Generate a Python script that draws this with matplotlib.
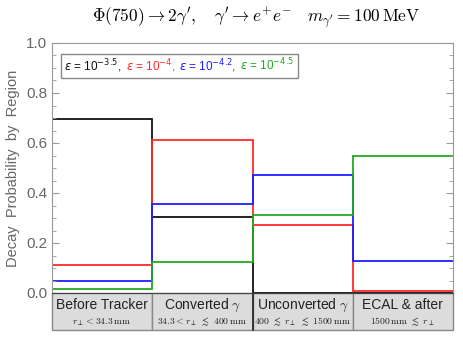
import matplotlib
matplotlib.use("Agg")
import matplotlib.pyplot as plt
from matplotlib.offsetbox import TextArea, HPacker, AnchoredOffsetbox
from matplotlib.patches import Rectangle
import numpy as np

plt.rcParams['font.family'] = ['Liberation Sans', 'DejaVu Sans']
plt.rcParams['mathtext.fontset'] = 'cm'

regions = ["Before Tracker", r"Converted $\gamma$", r"Unconverted $\gamma$", "ECAL & after"]
ranges = [r"$r_\perp < 34.3\,\mathrm{mm}$",
          r"$34.3 < r_\perp\ \lesssim\ 400\,\mathrm{mm}$",
          r"$400\ \lesssim\ r_\perp\ \lesssim\ 1500\,\mathrm{mm}$",
          r"$1500\,\mathrm{mm}\ \lesssim\ r_\perp$"]
eps_labels = [r"10$^{-3.5}$", r"10$^{-4}$", r"10$^{-4.2}$", r"10$^{-4.5}$"]
colors = ["#111111", "#ff2a2a", "#1f1fff", "#22aa22"]
p_eps35 = [0.698, 0.306, 0.0, 0.0]
p_eps40 = [0.114, 0.613, 0.271, 0.007]
p_eps42 = [0.047, 0.357, 0.472, 0.128]
p_eps45 = [0.015, 0.126, 0.314, 0.549]
series = [p_eps35, p_eps40, p_eps42, p_eps45]

fig = plt.figure(figsize=(4.63, 3.48), dpi=100)
ax = fig.add_axes([52/463, 1-293/348, 401/463, 250/348])

edges = np.arange(len(regions) + 1)
for vals, c in zip(series, colors):
    ax.stairs(vals, edges, baseline=None, color=c, lw=1.3)

ax.set_xlim(0, len(regions))
ax.set_ylim(0, 1.0)
ax.set_xticks([])
ax.set_yticks(np.arange(0, 1.01, 0.2))
ax.set_yticklabels([f"{v:.1f}" for v in np.arange(0, 1.01, 0.2)])
ax.set_yticks(np.arange(0, 1.001, 0.05), minor=True)
ax.tick_params(axis='y', which='both', direction='in', right=True, colors='#999999',
               labelcolor='#666666', labelsize=11)
ax.tick_params(axis='y', which='major', length=5, width=0.8)
ax.tick_params(axis='y', which='minor', length=3, width=0.6)
for s in ['left', 'right', 'top']:
    ax.spines[s].set_color('#999999')
ax.spines['bottom'].set_color('#444444')
ax.set_ylabel("Decay  Probability  by  Region", color='#666666', fontsize=10.5, labelpad=4)

# table beneath
trans = ax.get_xaxis_transform()
th = 37/250
for i, (r, rg) in enumerate(zip(regions, ranges)):
    ax.add_patch(Rectangle((i, -th), 1, th, transform=trans, facecolor='#dcdcdc',
                           edgecolor='#888888', lw=1.0, clip_on=False, zorder=0))
    ax.text(i + 0.5, -12/250, r, transform=trans, ha='center', va='center',
            fontsize=10, color='#222222', math_fontfamily='cm')
    ax.text(i + 0.5, -29/250, rg, transform=trans, ha='center', va='center',
            fontsize=7, color='#222222')
ax.plot([2, 2], [-th, 0], transform=trans, color='#222222', lw=1.2, clip_on=False)

# legend
parts = []
for k, (lab, c) in enumerate(zip(eps_labels, colors)):
    tail = ", " if k < len(eps_labels) - 1 else ""
    parts.append(TextArea(r"$\epsilon$ = " + lab + tail,
                          textprops=dict(color=c, fontsize=8.5, math_fontfamily='dejavusans')))
pack = HPacker(children=parts, align='baseline', pad=0, sep=2)
box = AnchoredOffsetbox(loc='upper left', child=pack, pad=0.25, borderpad=0.5,
                        frameon=True, bbox_to_anchor=(0.005, 0.985), bbox_transform=ax.transAxes)
box.patch.set_edgecolor('#888888')
box.patch.set_linewidth(1.0)
ax.add_artist(box)

fig.text(256/463, 1-18/348,
         r"$\Phi(750) \to 2\gamma', \quad \gamma' \to e^{+}e^{-} \quad m_{\gamma'} = 100\,\mathrm{MeV}$",
         ha='center', va='center', fontsize=12.5)

fig.savefig("out.png", dpi=100)
